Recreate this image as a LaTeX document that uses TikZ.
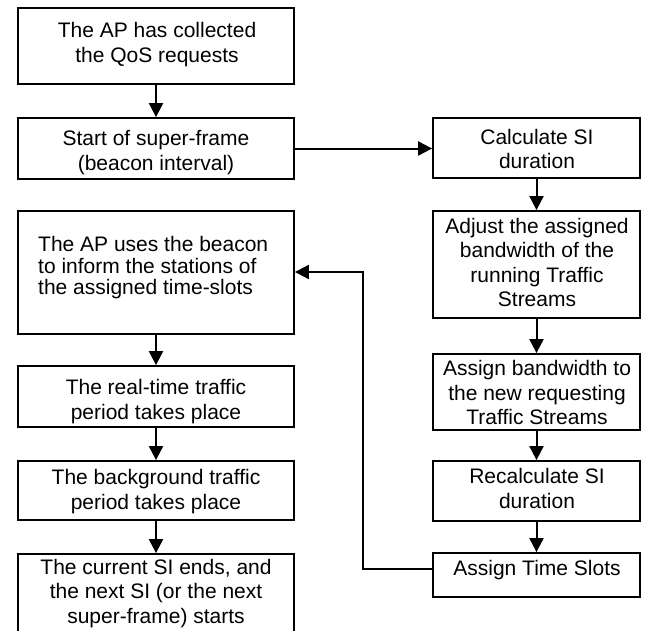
\documentclass[tikz,border=0pt]{standalone}
\usepackage{fontspec}
\setmainfont{Liberation Sans}
\usetikzlibrary{arrows.meta}
\begin{document}
\begin{tikzpicture}[x=1pt,y=-1pt,
  box/.style={draw, line width=1.8pt, inner sep=0pt},
  lbox/.style={box, minimum width=276pt},
  rbox/.style={box, minimum width=207pt},
  txt/.style={font=\fontsize{21}{24.5}\selectfont, align=center, inner sep=0pt,
              execute at begin node=\strut, execute at end node=\strut},
  flow/.style={draw, line width=2pt, -{Triangle[length=14pt,width=14pt]}},
]
\useasboundingbox (0,0) rectangle (646,630);
\clip (0,0) rectangle (646,630);

% left column
\node[lbox, minimum height=76pt]  (b1) at (156,46)    {};
\node[lbox, minimum height=61pt]  (b2) at (156,148.5) {};
\node[lbox, minimum height=123pt] (b3) at (156,272.5) {};
\node[lbox, minimum height=61pt]  (b4) at (156,396.5) {};
\node[lbox, minimum height=59pt]  (b5) at (156,490.5) {};
\node[lbox, minimum height=105pt] (b6) at (156,606.5) {};

% right column
\node[rbox, minimum height=60pt]  (calc)   at (536.5,148)   {};
\node[rbox, minimum height=107pt] (adjust) at (536.5,264.5) {};
\node[rbox, minimum height=76pt]  (newbw)  at (536.5,392)   {};
\node[rbox, minimum height=60pt]  (recalc) at (536.5,491)   {};
\node[rbox, minimum height=44pt]  (slots)  at (536.5,575)   {};

% labels
\node[txt] (t1) at (157,46)    {The AP has collected\\the QoS requests};
\node[txt] (t2) at (156,154)   {Start of super-frame\\(beacon interval)};
\node[txt, align=left, font=\fontsize{21}{21.5}\selectfont, anchor=west]
           (t3) at (38,269)    {The AP uses the beacon\\to inform the stations of\\the assigned time-slots};
\node[txt] (t4) at (156,403)   {The real-time traffic\\period takes place};
\node[txt] (t5) at (156,493)   {The background traffic\\period takes place};
\node[txt] (t6) at (156,595)   {The current SI ends, and\\the next SI (or the next\\super-frame) starts};

\node[txt] (t7)  at (537,152.5) {Calculate SI\\duration};
\node[txt] (t8)  at (537,266)   {Adjust the assigned\\bandwidth of the\\running Traffic\\Streams};
\node[txt] (t9)  at (537,396.5) {Assign bandwidth to\\the new requesting\\Traffic Streams};
\node[txt] (t10) at (537,492)   {Recalculate SI\\duration};
\node[txt] (t11) at (537,570.5) {Assign Time Slots};

% connectors
\draw[flow] (b1) -- (b2);
\draw[flow] (b3) -- (b4);
\draw[flow] (b4) -- (b5);
\draw[flow] (b5) -- (b6);
\draw[flow] (calc) -- (adjust);
\draw[flow] (adjust) -- (newbw);
\draw[flow] (newbw) -- (recalc);
\draw[flow] (recalc) -- (slots);
\draw[flow] (b2.east) -- (b2.east -| calc.west);

\coordinate (bend) at (363,272);
\draw[flow] ([yshift=6pt]slots.west) -- ([yshift=6pt]slots.west -| bend)
  -- (bend) -- (bend -| b3.east);
\end{tikzpicture}
\end{document}
